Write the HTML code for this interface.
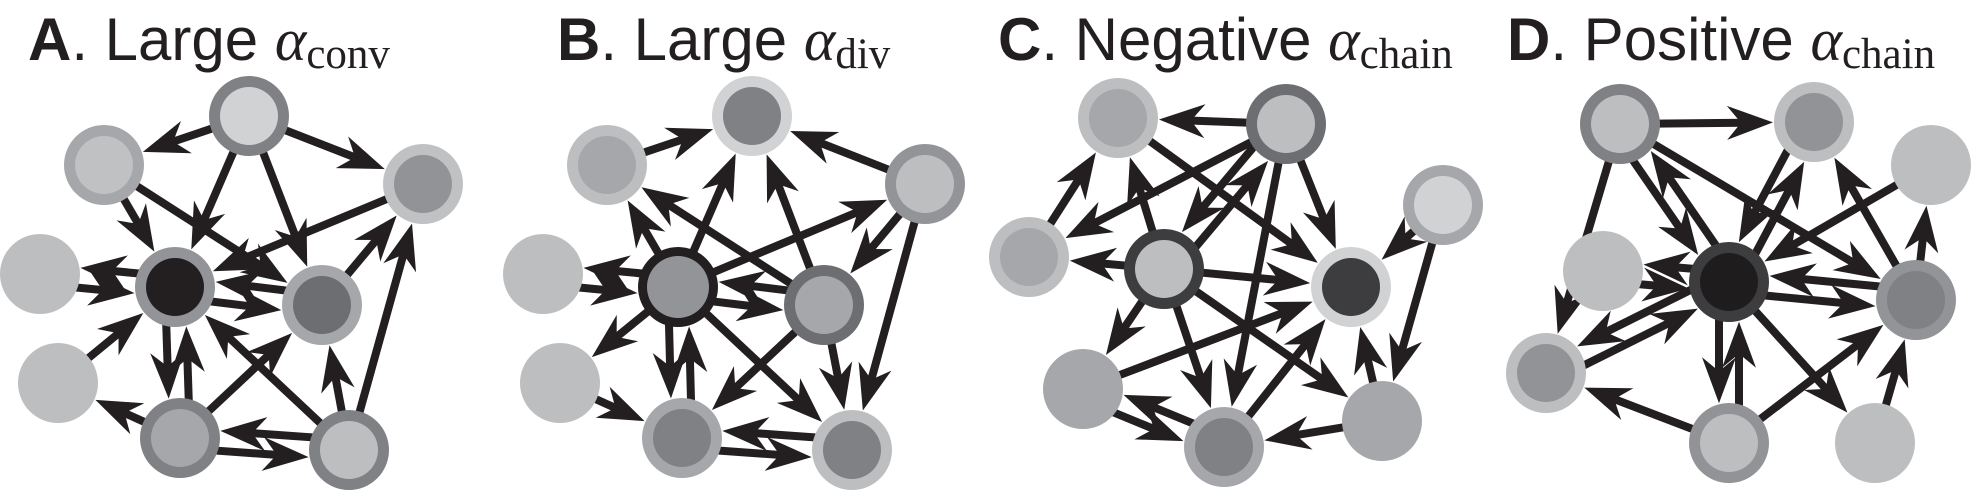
<!DOCTYPE html>
<html><head><meta charset="utf-8">
<style>
html,body{margin:0;padding:0;background:#fff;}
svg{display:block;}
</style></head>
<body>
<svg id="s" width="1972" height="491" viewBox="0 0 1972 491" xmlns="http://www.w3.org/2000/svg">
<g font-size="60" fill="#231f20">
<text x="28" y="60"><tspan font-family="Liberation Sans" font-weight="bold">A</tspan><tspan font-family="Liberation Sans">. Large </tspan><tspan font-family="Liberation Serif" font-style="italic">α</tspan><tspan font-family="Liberation Serif" font-size="43" dy="8">conv</tspan></text>
<text x="557" y="60"><tspan font-family="Liberation Sans" font-weight="bold">B</tspan><tspan font-family="Liberation Sans">. Large </tspan><tspan font-family="Liberation Serif" font-style="italic">α</tspan><tspan font-family="Liberation Serif" font-size="43" dy="8">div</tspan></text>
<text x="998" y="60"><tspan font-family="Liberation Sans" font-weight="bold">C</tspan><tspan font-family="Liberation Sans">. Negative </tspan><tspan font-family="Liberation Serif" font-style="italic">α</tspan><tspan font-family="Liberation Serif" font-size="43" dy="8">chain</tspan></text>
<text x="1507" y="60"><tspan font-family="Liberation Sans" font-weight="bold">D</tspan><tspan font-family="Liberation Sans">. Positive </tspan><tspan font-family="Liberation Serif" font-style="italic">α</tspan><tspan font-family="Liberation Serif" font-size="43" dy="8">chain</tspan></text>
</g>
<g id="edges"></g>
<g id="nodes"></g>
</svg>
<script>
var NS="http://www.w3.org/2000/svg";
var panels=[
 {n:{1:[249,116,'#808184','#d1d2d4'],2:[104,165,'#a6a7aa','#c0c1c3'],3:[423,184,'#c0c1c3','#929396'],4:[40,274,'#bdbec0'],5:[175,287,'#939497','#231f20'],6:[322,305,'#a6a7aa','#6d6e71'],7:[58,383,'#bdbec0'],8:[180,438,'#808184','#a6a7aa'],9:[349,450,'#808184','#bdbec0']},
  e:[[1,2],[1,5],[1,6],[1,3],[2,5],[2,6],[3,5],[5,4],[4,5],[5,6],[6,5],[6,3],[7,5],[5,8],[8,5],[9,5],[8,6],[8,7],[9,8],[8,9],[9,6],[9,3]]},
 {n:{1:[752,116,'#d1d2d4','#808184'],2:[607,165,'#bdbec0','#a6a7aa'],3:[925,184,'#939497','#bdbec0'],4:[543,274,'#bdbec0'],5:[678,287,'#231f20','#939497',31],6:[824,305,'#6d6e71','#a6a7aa'],7:[560,383,'#bdbec0'],8:[682,438,'#a6a7aa','#808184'],9:[852,450,'#bdbec0','#808184']},
  e:[[2,1],[3,1],[5,1],[6,1],[5,2],[6,2],[5,3],[3,6],[5,4],[4,5],[5,6],[6,5],[5,7],[7,8],[5,8],[8,5],[6,8],[5,9],[6,9],[3,9],[9,8],[8,9]]},
 {n:{1:[1118,118,'#bdbec0','#a6a7aa'],2:[1286,124,'#6d6e71','#bdbec0'],3:[1029,257,'#bdbec0','#a6a7aa'],4:[1164,269,'#3d3d3f','#bdbec0'],5:[1443,205,'#a6a7aa','#d1d2d4'],6:[1351,287,'#d1d2d4','#3d3d3f'],7:[1083,389,'#a6a7aa'],8:[1224,447,'#a6a7aa','#808184'],9:[1382,421,'#a6a7aa']},
  e:[[2,1],[3,1],[4,1],[1,6],[2,3],[2,4],[4,2],[4,3],[4,6],[2,6],[2,8],[4,7],[4,8],[4,9],[7,6],[7,8],[8,7],[8,6],[9,8],[9,6],[5,6],[5,9]]},
 {n:{1:[1620,124,'#808184','#bdbec0'],2:[1814,122,'#bdbec0','#929396'],3:[1931,165,'#bdbec0'],4:[1603,271,'#bdbec0'],5:[1729,282,'#3d3d3f','#1f1c1d'],6:[1916,300,'#939497','#808184'],7:[1546,373,'#bdbec0','#929396'],8:[1729,443,'#929396','#bdbec0'],9:[1875,443,'#bdbec0']},
  e:[[1,2],[1,7],[1,5],[5,1],[1,6],[5,2],[2,5],[6,2],[3,5],[6,3],[4,5],[5,4],[5,6],[6,5],[5,7],[7,5],[8,7],[8,5],[5,8],[8,6],[5,9],[9,6]]}
];
var eg=document.getElementById('edges'),ng=document.getElementById('nodes');
var R=40;
panels.forEach(function(p){
  var set={};p.e.forEach(function(e){set[e[0]+'-'+e[1]]=1;});
  p.e.forEach(function(e){
    var a=p.n[e[0]],b=p.n[e[1]];
    var dx=b[0]-a[0],dy=b[1]-a[1],L=Math.sqrt(dx*dx+dy*dy),ux=dx/L,uy=dy/L,px=-uy,py=ux;
    var o=set[e[1]+'-'+e[0]]?10:0;
    var oa=Math.sqrt(Math.max(0,R*R-o*o));
    var sx=a[0]+ux*(oa-4)+px*o,sy=a[1]+uy*(oa-4)+py*o;
    var tx=b[0]-ux*(oa+1)+px*o,ty=b[1]-uy*(oa+1)+py*o;
    var nx=tx-ux*30,ny=ty-uy*30;
    var l=document.createElementNS(NS,'line');
    l.setAttribute('x1',sx);l.setAttribute('y1',sy);l.setAttribute('x2',nx);l.setAttribute('y2',ny);
    l.setAttribute('stroke','#231f20');l.setAttribute('stroke-width',8);
    eg.appendChild(l);
    var b1x=tx-ux*46+px*17,b1y=ty-uy*46+py*17,b2x=tx-ux*46-px*17,b2y=ty-uy*46-py*17;
    var pg=document.createElementNS(NS,'polygon');
    pg.setAttribute('points',tx+','+ty+' '+b1x+','+b1y+' '+(tx-ux*32)+','+(ty-uy*32)+' '+b2x+','+b2y);
    pg.setAttribute('fill','#231f20');
    eg.appendChild(pg);
  });
  for(var k in p.n){var d=p.n[k];
    var c=document.createElementNS(NS,'circle');c.setAttribute('cx',d[0]);c.setAttribute('cy',d[1]);c.setAttribute('r',R);c.setAttribute('fill',d[2]);ng.appendChild(c);
    if(d[3]){var c2=document.createElementNS(NS,'circle');c2.setAttribute('cx',d[0]);c2.setAttribute('cy',d[1]);c2.setAttribute('r',d[4]||29);c2.setAttribute('fill',d[3]);ng.appendChild(c2);}
  }
});
</script>
</body></html>
